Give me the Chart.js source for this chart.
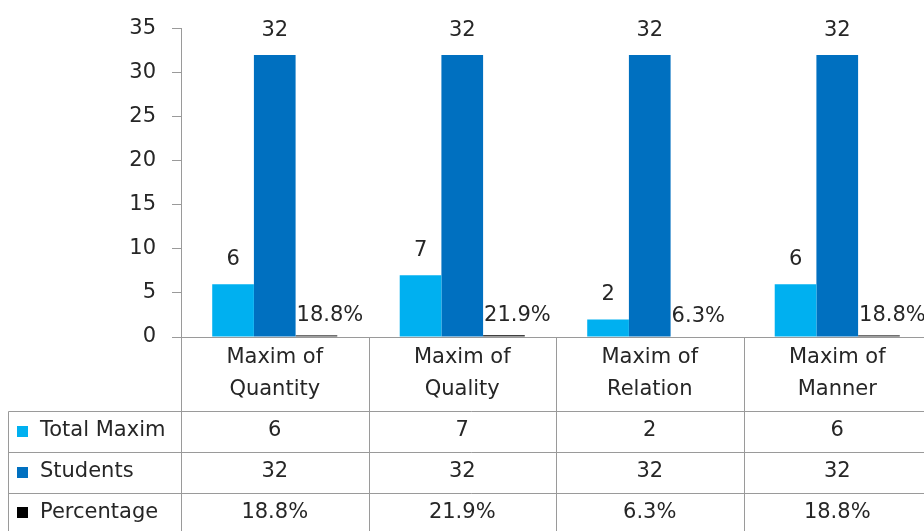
<!DOCTYPE html>
<html>
<head>
<meta charset="utf-8">
<script src="https://cdn.jsdelivr.net/npm/chart.js"></script>
<style>
  html, body { margin: 0; padding: 0; background: #fff; overflow: hidden; }
  #wrap { width: 924px; height: 531px; overflow: hidden; }
</style>
</head>
<body>
<div id="wrap"><canvas id="maximChart" width="934" height="531"></canvas></div>
<script>
// Maxim chart with an Excel style data table underneath

const categories = [
  ["Maxim of", "Quantity"],
  ["Maxim of", "Quality"],
  ["Maxim of", "Relation"],
  ["Maxim of", "Manner"]
];
const totalMaxim = [6, 7, 2, 6];
const students = [32, 32, 32, 32];
const percentage = [0.188, 0.219, 0.063, 0.188];
const seriesNames = ["Total Maxim", "Students", "Percentage"];
const seriesColors = ["#00b0f0", "#0070c0", "#000000"];
const yTicks = [0, 5, 10, 15, 20, 25, 30, 35];

const FONT = '"DejaVu Sans", sans-serif';
const TEXT = '#262626';
const LINE = '#9a9a9a';

function fmt(dsIndex, v) {
  return dsIndex === 2 ? (v * 100).toFixed(1) + '%' : String(v);
}

// value labels above each bar
const barLabels = {
  id: 'barLabels',
  afterDatasetsDraw(chart) {
    const ctx = chart.ctx;
    ctx.save();
    ctx.font = '21px ' + FONT;
    ctx.fillStyle = TEXT;
    ctx.textBaseline = 'alphabetic';
    chart.data.datasets.forEach((ds, di) => {
      chart.getDatasetMeta(di).data.forEach((bar, i) => {
        const txt = fmt(di, ds.data[i]);
        if (di === 2) {
          ctx.textAlign = 'left';
          ctx.fillText(txt, bar.x - bar.width / 2 + 1, bar.y - 14);
        } else {
          ctx.textAlign = 'center';
          ctx.fillText(txt, bar.x, bar.y - 19);
        }
      });
    });
    ctx.restore();
  }
};

// data table drawn under the plot, aligned with the x scale
const dataTable = {
  id: 'dataTable',
  afterDraw(chart) {
    const ctx = chart.ctx;
    const x = chart.scales.x;
    const area = chart.chartArea;
    const catW = x.getPixelForValue(1) - x.getPixelForValue(0);
    const top = area.bottom;
    const rowTops = [411.5, 452.5, 493.5, 534];
    const tableLeft = 8.5;
    const rows = [totalMaxim, students, percentage];

    ctx.save();
    ctx.strokeStyle = LINE;
    ctx.lineWidth = 1;
    ctx.beginPath();
    // category column separators
    for (let i = 0; i <= categories.length; i++) {
      const px = Math.round(x.getPixelForValue(0) - catW / 2 + i * catW) + 0.5;
      ctx.moveTo(px, top);
      ctx.lineTo(px, 540);
    }
    // row lines
    rowTops.forEach(y => {
      ctx.moveTo(tableLeft, y);
      ctx.lineTo(chart.width, y);
    });
    ctx.moveTo(tableLeft, rowTops[0]);
    ctx.lineTo(tableLeft, 540);
    ctx.stroke();

    ctx.font = '21px ' + FONT;
    ctx.fillStyle = TEXT;
    ctx.textAlign = 'center';
    ctx.textBaseline = 'middle';
    categories.forEach((lines, i) => {
      const cx = x.getPixelForValue(i);
      ctx.fillText(lines[0], cx, 358);
      ctx.fillText(lines[1], cx, 390);
    });

    rows.forEach((vals, r) => {
      const cy = (rowTops[r] + rowTops[r + 1]) / 2 - 1;
      vals.forEach((v, i) => {
        ctx.textAlign = 'center';
        ctx.fillStyle = TEXT;
        ctx.fillText(fmt(r, v), x.getPixelForValue(i), cy);
      });
      // legend key
      ctx.fillStyle = seriesColors[r];
      ctx.fillRect(17, Math.round(cy - 5.5), 11, 11);
      ctx.fillStyle = TEXT;
      ctx.textAlign = 'left';
      ctx.fillText(seriesNames[r], 40, cy);
    });
    ctx.restore();
  }
};

const datasets = [totalMaxim, students, percentage].map((vals, i) => ({
  label: seriesNames[i],
  data: vals,
  backgroundColor: i === 2 ? '#404040' : seriesColors[i],
  borderWidth: 0,
  categoryPercentage: 0.667,
  barPercentage: 1
}));

const ctx = document.getElementById('maximChart').getContext('2d');
new Chart(ctx, {
  type: 'bar',
  data: {
    labels: categories.map(c => c.join(' ')),
    datasets: datasets
  },
  options: {
    responsive: false,
    animation: false,
    devicePixelRatio: 1,
    layout: { padding: { left: 0, right: 3, top: 26, bottom: 194 } },
    plugins: {
      legend: { display: false },
      tooltip: { enabled: false }
    },
    scales: {
      x: {
        grid: { display: false },
        border: { display: true, color: LINE },
        ticks: { display: false },
        afterFit(scale) { scale.height = 0; }
      },
      y: {
        min: yTicks[0],
        max: yTicks[yTicks.length - 1],
        afterBuildTicks(scale) { scale.ticks = yTicks.map(v => ({ value: v })); },
        grid: { drawOnChartArea: false, drawTicks: true, tickLength: 9, color: LINE },
        border: { color: LINE },
        ticks: {
          color: TEXT,
          padding: 16,
          font: { family: FONT, size: 21 }
        },
        afterFit(scale) { scale.width = 181; }
      }
    }
  },
  plugins: [barLabels, dataTable]
});
</script>
</body>
</html>
